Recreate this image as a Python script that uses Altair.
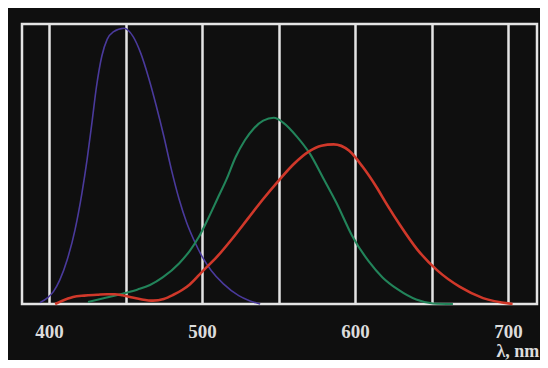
import altair as alt
import pandas as pd

# Cone sensitivity curves (wavelength nm, relative sensitivity 0-1)
s_nm = [394, 399, 403, 407, 412, 417, 421.5, 425, 428, 431, 434.5, 438, 442, 449,
        455, 460, 465, 470, 475, 480, 485, 490, 495, 500, 506, 514, 524, 531, 538]
s_val = [0.005, 0.022, 0.045, 0.085, 0.16, 0.265, 0.395, 0.52, 0.645, 0.775, 0.885, 0.945, 0.972, 0.985,
         0.955, 0.895, 0.81, 0.71, 0.6, 0.48, 0.375, 0.29, 0.225, 0.17, 0.12, 0.072, 0.03, 0.012, 0.0]

m_nm = [425.5, 437, 449.7, 458, 466, 474.5, 485, 492, 498, 504, 510, 516, 522, 528, 534, 540,
        547, 553, 562, 570.6, 579, 588, 598, 609, 618, 628, 640, 651, 664]
m_val = [0.007, 0.022, 0.039, 0.052, 0.068, 0.096, 0.145, 0.19, 0.24, 0.305, 0.375, 0.445, 0.525,
         0.585, 0.628, 0.655, 0.665, 0.648, 0.598, 0.536, 0.452, 0.36, 0.245, 0.152, 0.095, 0.052,
         0.016, 0.002, 0.0]

l_nm = [404, 408, 415.7, 423, 431.4, 438, 443.1, 448, 452.9, 460, 468, 475, 481, 487, 492, 500,
        510, 520, 530, 540, 550, 560, 570, 578, 586, 596, 605, 614, 621, 629.4, 640.5, 653.6,
        668.6, 683.7, 703]
l_val = [0.0, 0.01, 0.025, 0.03, 0.033, 0.035, 0.035, 0.031, 0.025, 0.017, 0.012, 0.018, 0.032,
         0.05, 0.07, 0.115, 0.17, 0.235, 0.305, 0.375, 0.44, 0.5, 0.545, 0.565, 0.57, 0.548, 0.49,
         0.418, 0.354, 0.282, 0.196, 0.121, 0.061, 0.021, 0.0]

series_names = ["S", "M", "L"]
series_colors = ["#4a3a9c", "#22845a", "#d0382a"]
series_widths = [1.6, 2.6, 2.6]
grid_values = [400, 450, 500, 550, 600, 650, 700]
label_values = [400, 500, 600, 700]

rows = []
for name, xs, ys in [("S", s_nm, s_val), ("M", m_nm, m_val), ("L", l_nm, l_val)]:
    for x, y in zip(xs, ys):
        rows.append({"series": name, "nm": x, "v": y})
df = pd.DataFrame(rows)

label_expr = "indexof([" + ",".join(str(v) for v in label_values) + "], datum.value) >= 0 ? datum.label : ''"

base = alt.Chart(df).encode(
    x=alt.X("nm:Q",
            scale=alt.Scale(domain=[382.35, 718.95], nice=False, zero=False),
            axis=alt.Axis(values=grid_values, labelExpr=label_expr, grid=True,
                          gridColor="#e4e4e4", gridWidth=2.5, gridOpacity=1,
                          domain=False, ticks=False, labelPadding=18,
                          labelFont="Liberation Serif", labelFontWeight="bold",
                          labelFontSize=19, labelColor="#dcdcdc",
                          title="λ, nm", titleFont="Liberation Serif",
                          titleFontWeight="bold", titleFontSize=18, titleColor="#dcdcdc",
                          titleAlign="left", titleBaseline="middle",
                          titleX=474, titleY=47, titleAnchor="start")),
    y=alt.Y("v:Q", scale=alt.Scale(domain=[0, 1], nice=False), axis=None),
    color=alt.Color("series:N", scale=alt.Scale(domain=series_names, range=series_colors),
                    legend=None),
    strokeWidth=alt.StrokeWidth("series:N",
                                scale=alt.Scale(domain=series_names, range=series_widths),
                                legend=None),
)

chart = base.mark_line(interpolate="monotone").properties(
    width=515, height=280,
    background="#0f0f0f",
    padding={"left": 14, "top": 16, "right": 3, "bottom": 56},
    autosize=alt.AutoSizeParams(type="none"),
).configure_view(stroke="#e4e4e4", strokeWidth=2.5)

chart.save("out.html", embed_options={"renderer": "svg", "actions": False})
